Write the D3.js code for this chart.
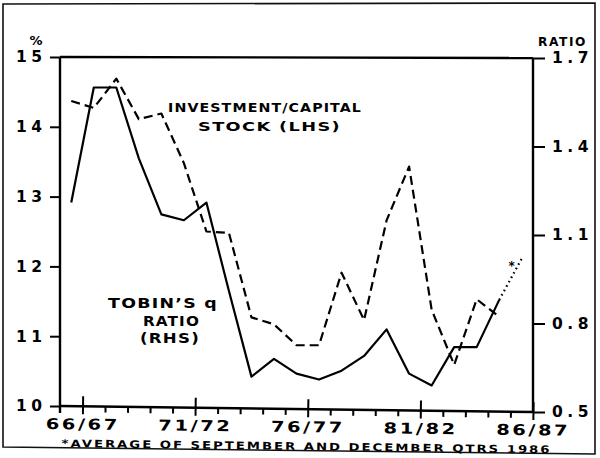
<!DOCTYPE html>
<html><head><meta charset="utf-8">
<script src="https://cdn.jsdelivr.net/npm/d3@7"></script>
<style>html,body{margin:0;padding:0;background:#fff}svg{display:block}</style>
</head><body><svg id="c" width="600" height="458"></svg>
<script>
// ---- data ----
const years = ["66/67","67/68","68/69","69/70","70/71","71/72","72/73","73/74","74/75","75/76",
  "76/77","77/78","78/79","79/80","80/81","81/82","82/83","83/84","84/85","85/86","86/87"];
// Investment / capital stock (%, LHS)
const investment = [14.37,14.27,14.69,14.11,14.19,13.48,12.50,12.48,11.27,11.17,
  10.87,10.87,11.91,11.23,12.66,13.43,11.38,10.59,11.53,11.28];
// Tobin's q ratio (RHS); last value is the estimate (*)
const tobinQ = [1.21,1.60,1.60,1.36,1.17,1.15,1.21,0.91,0.62,0.68,
  0.63,0.61,0.64,0.69,0.78,0.63,0.59,0.72,0.72,0.88,1.02];
const estimatedYears = ["86/87"];
const labeledYears = ["66/67","71/72","76/77","81/82","86/87"];
const leftTicks = [10,11,12,13,14,15];
const rightTicks = [0.5,0.8,1.1,1.4,1.7];
const invLabel = ["INVESTMENT/CAPITAL","STOCK (LHS)"];
const qLabel = ["TOBIN\u2019S q","RATIO","(RHS)"];
const footnote = "*AVERAGE OF SEPTEMBER AND DECEMBER QTRS 1986";

// ---- layout ----
const svg = d3.select("#c");
const FONT = "'DejaVu Sans', 'Liberation Sans', sans-serif";
const L = 60, R = 533;
const x = d3.scaleLinear().domain([0, years.length]).range([L, R]);
const yL = d3.scaleLinear().domain([10, 15]).range([406, 57]);
const yR = d3.scaleLinear().domain([0.5, 1.7]).range([412, 58]);
const cx = i => x(i + 0.5);

// outer border
svg.append("path")
  .attr("d", "M3,4 L595,3 L595,454 L3,447 Z")
  .attr("fill", "none").attr("stroke", "#111").attr("stroke-width", 1.6);

// top frame line
svg.append("line").attr("x1", L).attr("x2", R).attr("y1", yL(15)).attr("y2", yR(1.7))
  .attr("stroke", "#000").attr("stroke-width", 2.4);

// left axis
const gl = svg.append("g").attr("transform", `translate(${L},0)`)
  .call(d3.axisLeft(yL).tickValues(leftTicks).tickSize(10).tickSizeOuter(0).tickPadding(8).tickFormat(d3.format("d")));
gl.select(".domain").remove();
gl.append("line").attr("x1", 0).attr("x2", 0).attr("y1", yL(15)).attr("y2", 413)
  .attr("stroke", "#000").attr("stroke-width", 2.4);
gl.selectAll(".tick line").attr("stroke", "#000").attr("stroke-width", 2);
gl.selectAll(".tick text").attr("font-family", FONT).attr("font-weight", "bold")
  .attr("font-size", 15.5).attr("letter-spacing", 4.5).attr("dx", 4.5).attr("fill", "#000");

// right axis
const gr = svg.append("g").attr("transform", `translate(${R},0)`)
  .call(d3.axisRight(yR).tickValues(rightTicks).tickSize(12).tickSizeOuter(0).tickPadding(7).tickFormat(d3.format(".1f")));
gr.select(".domain").remove();
gr.append("line").attr("x1", 0).attr("x2", 0).attr("y1", yR(1.7)).attr("y2", yR(0.5) + 1)
  .attr("stroke", "#000").attr("stroke-width", 2.4);
gr.selectAll(".tick line").attr("stroke", "#000").attr("stroke-width", 2);
gr.selectAll(".tick text").attr("font-family", FONT).attr("font-weight", "bold")
  .attr("font-size", 15.5).attr("letter-spacing", 4.5).attr("fill", "#000");

// unit labels
svg.append("text").attr("x", 36).attr("y", 45).attr("text-anchor", "middle")
  .attr("font-family", FONT).attr("font-weight", "bold").attr("font-size", 13).text("%");
svg.append("text").attr("x", 538).attr("y", 46).attr("textLength", 49).attr("lengthAdjust", "spacingAndGlyphs")
  .attr("letter-spacing", 1.5)
  .attr("font-family", FONT).attr("font-weight", "bold").attr("font-size", 11.5).text("RATIO");

// bottom axis (slightly tilted like the scan)
const tilt = Math.atan2(yR(0.5) - yL(10), R - L) * 180 / Math.PI;
const gb = svg.append("g").attr("transform", `translate(0,${yL(10)}) rotate(${tilt},${L},0)`);
const xa = gb.append("g")
  .call(d3.axisBottom(x).tickValues(d3.range(1, years.length + 1)).tickSize(6).tickSizeOuter(0).tickPadding(10)
    .tickFormat(i => labeledYears.includes(years[i - 1]) ? years[i - 1] : ""));
xa.select(".domain").remove();
gb.append("line").attr("x1", L).attr("x2", R).attr("y1", 0).attr("y2", 0)
  .attr("stroke", "#000").attr("stroke-width", 2.4);
xa.selectAll(".tick line").attr("stroke", "#000").attr("stroke-width", 2);
xa.selectAll(".tick").filter(i => labeledYears.includes(years[i - 1]))
  .select("line").attr("y1", -10).attr("y2", 8);
xa.selectAll(".tick text").filter(function () { return this.textContent !== ""; })
  .attr("font-family", FONT).attr("font-weight", "bold")
  .attr("font-size", 15).attr("letter-spacing", 2).attr("textLength", 74).attr("lengthAdjust", "spacingAndGlyphs")
  .attr("y", 12.5).attr("dy", "0.71em").attr("fill", "#000");
gb.append("text").attr("x", 62).attr("y", 41).attr("textLength", 490).attr("lengthAdjust", "spacingAndGlyphs")
  .attr("letter-spacing", 1.6)
  .attr("font-family", FONT).attr("font-weight", "bold").attr("font-size", 10.5).text(footnote);

// ---- lines ----
const lineL = d3.line().x((d, i) => cx(i)).y(d => yL(d));
svg.append("path").datum(investment).attr("d", lineL)
  .attr("fill", "none").attr("stroke", "#000").attr("stroke-width", 2.2)
  .attr("stroke-dasharray", "9,5").attr("stroke-linejoin", "round");

const qPts = tobinQ.map((v, i) => ({i, v, est: estimatedYears.includes(years[i])}));
const actual = qPts.filter(d => !d.est);
const lastActual = actual[actual.length - 1];
const est = [lastActual].concat(qPts.filter(d => d.est));
const lineR = d3.line().x(d => cx(d.i)).y(d => yR(d.v));
svg.append("path").datum(actual).attr("d", lineR)
  .attr("fill", "none").attr("stroke", "#000").attr("stroke-width", 2.2).attr("stroke-linejoin", "round");
svg.append("path").datum(est).attr("d", lineR)
  .attr("fill", "none").attr("stroke", "#000").attr("stroke-width", 2.2)
  .attr("stroke-dasharray", "1.6,3.4").attr("stroke-linecap", "butt");
const lastEst = est[est.length - 1];
svg.append("text").attr("x", cx(lastEst.i) - 10).attr("y", yR(lastEst.v) + 11)
  .attr("text-anchor", "middle").attr("font-family", FONT).attr("font-weight", "bold")
  .attr("font-size", 12).text("*");

// ---- labels ----
const lab = svg.append("g").attr("font-family", FONT).attr("font-weight", "bold").attr("fill", "#000");
lab.append("text").attr("x", 168).attr("y", 112).attr("textLength", 194).attr("lengthAdjust", "spacingAndGlyphs")
  .attr("letter-spacing", 1).attr("font-size", 13).text(invLabel[0]);
lab.append("text").attr("x", 198).attr("y", 131).attr("textLength", 143).attr("lengthAdjust", "spacingAndGlyphs")
  .attr("letter-spacing", 1).attr("font-size", 13).text(invLabel[1]);
lab.append("text").attr("x", 108).attr("y", 308).attr("textLength", 110).attr("lengthAdjust", "spacingAndGlyphs")
  .attr("letter-spacing", 1).attr("font-size", 13.5).text(qLabel[0]);
lab.append("text").attr("x", 143).attr("y", 326).attr("textLength", 57).attr("lengthAdjust", "spacingAndGlyphs")
  .attr("letter-spacing", 1).attr("font-size", 13.5).text(qLabel[1]);
lab.append("text").attr("x", 140).attr("y", 343).attr("textLength", 60).attr("lengthAdjust", "spacingAndGlyphs")
  .attr("letter-spacing", 1).attr("font-size", 13.5).text(qLabel[2]);
</script></body></html>
